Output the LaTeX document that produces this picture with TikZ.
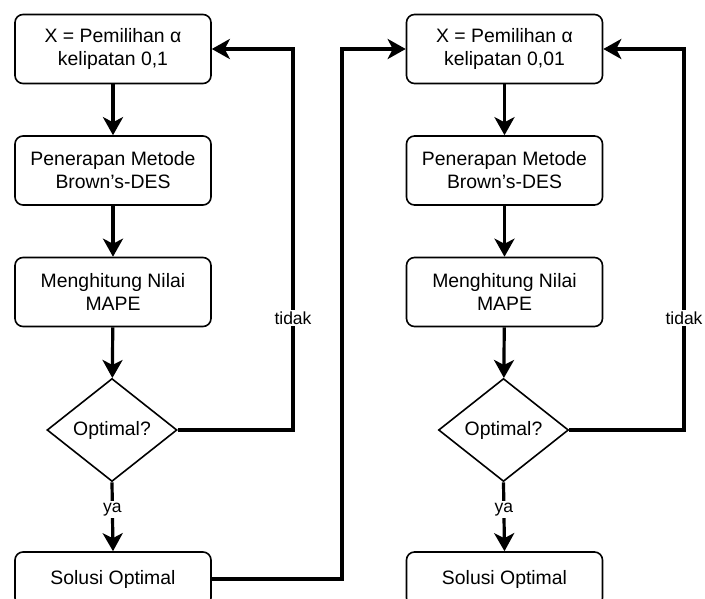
\documentclass[tikz,border=0pt]{standalone}
\usepackage{fontspec}
\setmainfont{Liberation Sans}
\usetikzlibrary{shapes.geometric,arrows.meta}
\begin{document}
\begin{tikzpicture}[x=1pt,y=-1pt,
  box/.style={draw, rounded corners=8pt, line width=1.6pt, minimum width=196pt, minimum height=69pt, inner sep=0pt, align=center, font=\fontsize{19.4}{23}\selectfont},
  endbox/.style={box, minimum height=54pt},
  decision/.style={draw, diamond, line width=1.6pt, minimum width=130pt, minimum height=103pt, shape aspect=1.26, inner sep=0pt, font=\fontsize{19.4}{23}\selectfont},
  conn/.style={line width=3.2pt, -{Stealth[length=18pt,width=20pt,inset=5pt]}},
  lbl/.style={fill=white, inner sep=2pt, font=\fontsize{17.5}{21}\selectfont}
]
\clip (0,0) rectangle (705,599);
\fill[white] (0,0) rectangle (705,599);
% left column
\node[box] (a1) at (113,49) {X = Pemilihan α\\kelipatan 0,1};
\node[box] (a2) at (113,170.5) {Penerapan Metode\\Brown\char39 s-DES};
\node[box] (a3) at (113,292) {Menghitung Nilai\\MAPE};
\node[decision] (d1) at (112,430) {Optimal?};
\node[endbox] (a4) at (113,579) {Solusi Optimal};
% right column
\node[box] (b1) at (504.5,49) {X = Pemilihan α\\kelipatan 0,01};
\node[box] (b2) at (504.5,170.5) {Penerapan Metode\\Brown\char39 s-DES};
\node[box] (b3) at (504.5,292) {Menghitung Nilai\\MAPE};
\node[decision] (d2) at (503.5,430) {Optimal?};
\node[endbox] (b4) at (504.5,579) {Solusi Optimal};
% coordinates for bends
\coordinate (t1) at (293,49);
\coordinate (t2) at (684,49);
\coordinate (c1) at (342,49);
% left connectors
\draw[conn] (a1) -- (a2);
\draw[conn] (a2) -- (a3);
\draw[conn] (a3) -- (d1);
\draw[conn] (d1.south) -- node[lbl, pos=0.4] {ya} (a4.north);
\draw[conn] (d1.east) -| node[lbl, pos=0.647] {tidak} (t1) -- (a1.east);
% link
\draw[conn] (a4.east) -| (c1) -- (b1.west);
% right connectors
\draw[conn] (b1) -- (b2);
\draw[conn] (b2) -- (b3);
\draw[conn] (b3) -- (d2);
\draw[conn] (d2.south) -- node[lbl, pos=0.4] {ya} (b4.north);
\draw[conn] (d2.east) -| node[lbl, pos=0.647] {tidak} (t2) -- (b1.east);
\end{tikzpicture}
\end{document}
